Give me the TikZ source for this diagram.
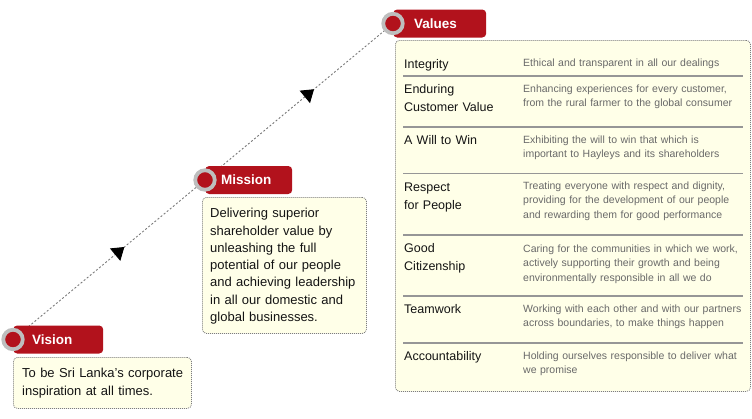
\documentclass[tikz,border=0pt]{standalone}
\usepackage{fontspec}
\setmainfont{Liberation Sans}
\usetikzlibrary{arrows.meta,decorations.markings}
\pgfdeclarelayer{bg}
\pgfsetlayers{bg,main}
\definecolor{tagred}{RGB}{178,18,28}
\definecolor{ringgrey}{RGB}{190,190,190}
\definecolor{boxfill}{RGB}{255,255,232}
\definecolor{boxline}{RGB}{125,125,125}
\definecolor{sepcol}{RGB}{150,150,150}
\definecolor{desccol}{RGB}{105,105,105}
\definecolor{ink}{RGB}{20,20,20}
\definecolor{conncol}{RGB}{120,120,120}
\begin{document}
\begin{tikzpicture}[x=1pt,y=-1pt,
  tagbox/.style={fill=tagred, rounded corners=4pt, minimum height=28pt, inner xsep=0pt, inner ysep=0pt,
    text=white, font=\fontsize{13.5}{15}\selectfont\bfseries, align=left, anchor=west},
  ringnode/.style={circle, fill=tagred, draw=ringgrey, line width=3.8pt, minimum size=19.5pt, inner sep=0pt},
  infobox/.style={draw=boxline, line width=0.8pt, dash pattern=on 1pt off 1pt, fill=boxfill, rounded corners=4pt, anchor=north west, inner sep=0pt},
  bodytext/.style={font=\fontsize{13}{17.3}\selectfont, text=ink, align=left, anchor=base west, inner sep=0pt},
  vlabel/.style={font=\fontsize{12.5}{17.5}\selectfont, text=ink, align=left, anchor=base west, inner sep=0pt, text width=110pt},
  vdesc/.style={font=\fontsize{10.5}{14.5}\selectfont, text=desccol, align=left, anchor=base west, inner sep=0pt, text width=226pt},
  sepline/.style={draw=sepcol, line width=1.3pt},
  conn/.style={draw=conncol, dash pattern=on 2pt off 2pt, line width=0.9pt, postaction={decorate},
    decoration={markings, mark=at position 0.58 with {\arrow{Triangle[length=12pt,width=16pt,color=black]}}}}
]
\useasboundingbox (0,0) rectangle (752,418);

% tags
\node[tagbox, minimum width=90pt, text width=52pt] (vistag) at (13,339.5) {Vision};
\node[tagbox, minimum width=87pt, text width=55pt] (mistag) at (205,180) {Mission};
\node[tagbox, minimum width=93pt, text width=51pt] (valtag) at (393,23.5) {Values};

% rings
\node[ringnode] (visc) at (13,339.5) {};
\node[ringnode] (misc) at (205,180) {};
\node[ringnode] (valc) at (393,23.5) {};

% connectors
\begin{pgfonlayer}{bg}
\draw[conn] (visc.center) -- (misc.center);
\draw[conn] (misc.center) -- (valc.center);
\end{pgfonlayer}

% Vision box
\node[infobox, minimum width=178pt, minimum height=51pt] (visbox) at (13,357) {};
\node[bodytext, text width=165pt] (vistext) at (22,377.7) {To be Sri Lanka’s corporate\\inspiration at all times.};

% Mission box
\node[infobox, minimum width=164pt, minimum height=136pt] (misbox) at (202,197) {};
\node[bodytext, text width=152pt] (mistext) at (210,217.7) {Delivering superior\\shareholder value by\\unleashing the full\\potential of our people\\and achieving leadership\\in all our domestic and\\global businesses.};

% Values box
\node[infobox, minimum width=355pt, minimum height=351pt] (valbox) at (395,40) {};

\draw[sepline] (403,76) -- (743,76);
\draw[sepline] (403,127) -- (743,127);
\draw[sepline] (403,173.5) -- (743,173.5);
\draw[sepline] (403,235) -- (743,235);
\draw[sepline] (403,296) -- (743,296);
\draw[sepline] (403,343) -- (743,343);

\node[vlabel] (l1) at (404,68) {Integrity};
\node[vdesc] (d1) at (523,66.5) {Ethical and transparent in all our dealings};

\node[vlabel] (l2) at (404,93.5) {Enduring\\Customer Value};
\node[vdesc] (d2) at (523,92) {Enhancing experiences for every customer,\\from the rural farmer to the global consumer};

\node[vlabel] (l3) at (404,144.5) {A Will to Win};
\node[vdesc] (d3) at (523,143) {Exhibiting the will to win that which is\\important to Hayleys and its shareholders};

\node[vlabel] (l4) at (404,191.5) {Respect\\for People};
\node[vdesc] (d4) at (523,189) {Treating everyone with respect and dignity,\\providing for the development of our people\\and rewarding them for good performance};

\node[vlabel] (l5) at (404,252.5) {Good\\Citizenship};
\node[vdesc] (d5) at (523,252) {Caring for the communities in which we work,\\actively supporting their growth and being\\environmentally responsible in all we do};

\node[vlabel] (l6) at (404,313.5) {Teamwork};
\node[vdesc] (d6) at (523,312) {Working with each other and with our partners\\across boundaries, to make things happen};

\node[vlabel] (l7) at (404,360.5) {Accountability};
\node[vdesc] (d7) at (523,359) {Holding ourselves responsible to deliver what\\we promise};
\end{tikzpicture}
\end{document}
